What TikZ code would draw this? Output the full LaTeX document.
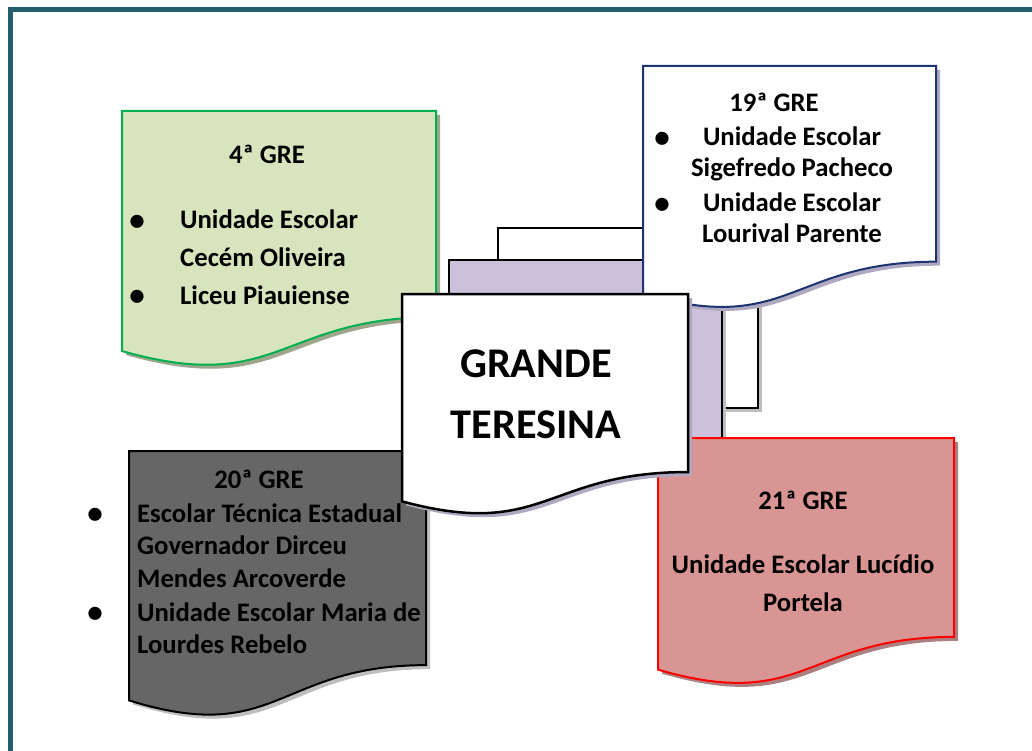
\documentclass[tikz,border=0pt]{standalone}
\usepackage{fontspec}
\setmainfont{Carlito}
\definecolor{framec}{RGB}{36,94,108}
\definecolor{greenfill}{RGB}{215,228,189}
\definecolor{greenline}{RGB}{0,176,80}
\definecolor{greenshadow}{RGB}{158,166,140}
\definecolor{navy}{RGB}{28,52,112}
\definecolor{lavshadow}{RGB}{176,168,192}
\definecolor{purplefill}{RGB}{204,192,218}
\definecolor{redfill}{RGB}{217,149,148}
\definecolor{redline}{RGB}{255,0,0}
\definecolor{redshadow}{RGB}{170,128,128}
\definecolor{greyfill}{RGB}{102,102,102}
\definecolor{greyshadow}{RGB}{190,190,190}
\newcommand\docshape[5]{%
  \path[#1] ({#2},{#3}) -- ({#2+#4},{#3}) -- ({#2+#4},{#3+0.802*#5})
    .. controls ({#2+0.5*#4},{#3+0.802*#5}) and ({#2+0.5*#4},{#3+1.1076*#5}) ..
    ({#2},{#3+0.934*#5}) -- cycle;}
\begin{document}
\begin{tikzpicture}[x=1pt,y=-1pt,line join=miter,
  docline/.style={line width=2pt},
  lbl/.style={font=\bfseries\fontsize{26.7}{31}\selectfont,inner sep=0pt,anchor=base},
  lblw/.style={lbl,anchor=base west},
  bul/.style={font=\bfseries\fontsize{31}{31}\selectfont,inner sep=0pt,anchor=base},
  big/.style={font=\bfseries\fontsize{42.3}{50}\selectfont,inner sep=0pt,anchor=base}]
\useasboundingbox (0,0) rectangle (1032,751);
\clip (0,0) rectangle (1032,751);
\fill[white] (0,0) rectangle (1032,751);
\draw[framec,line width=5pt] (10.5,9.5) rectangle (1100,800);
% 4a GRE
\docshape{fill=greenshadow,shift={(4,4)}}{122}{111}{314}{257}
\docshape{fill=greenfill,draw=greenline,docline}{122}{111}{314}{257}
% 20a GRE
\docshape{fill=greyshadow,shift={(4,4)}}{129}{451}{297}{267}
\docshape{fill=greyfill,draw=black,docline}{129}{451}{297}{267}
% stacked pages behind the centre
\fill[greyshadow] (502,232) rectangle (762,412);
\draw[fill=white,docline] (498,228) rectangle (758,408);
\fill[greyshadow] (453,264) rectangle (726,454);
\draw[fill=purplefill,docline] (449,260) rectangle (722,450);
% 19a GRE
\docshape{fill=lavshadow,shift={(4,4)}}{643}{66}{293}{244}
\docshape{fill=white,draw=navy,docline}{643}{66}{293}{244}
% 21a GRE
\docshape{fill=redshadow,shift={(4,4)}}{658}{438}{296}{248}
\docshape{fill=redfill,draw=redline,docline}{658}{438}{296}{248}
% centre
\docshape{fill=lavshadow,shift={(4,4)}}{402}{294}{286}{222}
\docshape{fill=white,draw=black,line width=2.5pt}{402}{294}{286}{222}
% texts: 4a GRE
\node[lbl] (g4t) at (267,164) {4ª GRE};
\node[bul] (g4b1) at (137,230.5) {\textbullet};
\node[lblw] (g4l1) at (180,229) {Unidade Escolar};
\node[lblw] (g4l2) at (180,266) {Cecém Oliveira};
\node[bul] (g4b2) at (137,305.5) {\textbullet};
\node[lblw] (g4l3) at (180,304) {Liceu Piauiense};
% 19a GRE
\node[lbl] (g19t) at (774,112) {19ª GRE};
\node[bul] (g19b1) at (662,147.5) {\textbullet};
\node[lbl] (g19l1) at (792,146) {Unidade Escolar};
\node[lbl] (g19l2) at (792,177) {Sigefredo Pacheco};
\node[bul] (g19b2) at (662,213.5) {\textbullet};
\node[lbl] (g19l3) at (792,212) {Unidade Escolar};
\node[lbl] (g19l4) at (792,243) {Lourival Parente};
% 20a GRE
\node[lbl] (g20t) at (259,488) {20ª GRE};
\node[bul] (g20b1) at (95,523.5) {\textbullet};
\node[lblw] (g20l1) at (137,522) {Escolar Técnica Estadual};
\node[lblw] (g20l2) at (137,554) {Governador Dirceu};
\node[lblw] (g20l3) at (137,587) {Mendes Arcoverde};
\node[bul] (g20b2) at (95,622.5) {\textbullet};
\node[lblw] (g20l4) at (137,621) {Unidade Escolar Maria de};
\node[lblw] (g20l5) at (137,653) {Lourdes Rebelo};
% 21a GRE
\node[lbl] (g21t) at (803,509) {21ª GRE};
\node[lbl] (g21l1) at (803,573) {Unidade Escolar Lucídio};
\node[lbl] (g21l2) at (803,611) {Portela};
% centre
\node[big] (gt1) at (536,377) {GRANDE};
\node[big] (gt2) at (536,438) {TERESINA};
\end{tikzpicture}
\end{document}
